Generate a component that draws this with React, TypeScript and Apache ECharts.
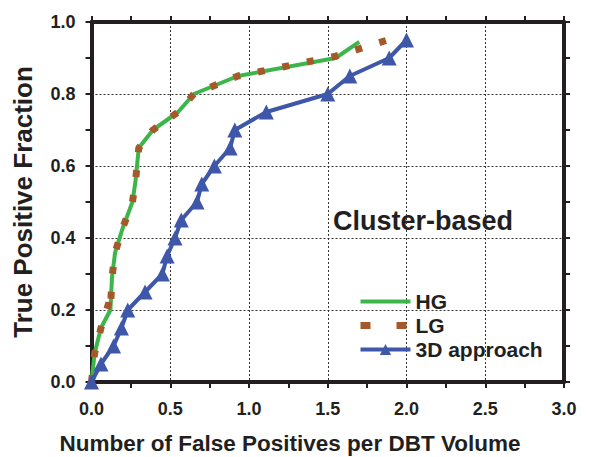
import React, { useEffect, useRef } from "react";
import * as echarts from "echarts";

const hgX = [0, 0.02, 0.06, 0.12, 0.13, 0.15, 0.2, 0.26, 0.28, 0.3, 0.39, 0.55, 0.65, 0.93, 1.55, 1.7];
const hgY = [0, 0.08, 0.15, 0.2, 0.29, 0.36, 0.43, 0.5, 0.56, 0.65, 0.7, 0.75, 0.8, 0.85, 0.9, 0.945];

const lgX = [0, 0.02, 0.06, 0.11, 0.12, 0.13, 0.15, 0.2, 0.26, 0.28, 0.3, 0.39, 0.55, 0.65, 0.93, 1.55, 1.88];
const lgY = [0, 0.08, 0.15, 0.22, 0.2, 0.29, 0.36, 0.43, 0.5, 0.56, 0.65, 0.7, 0.75, 0.8, 0.85, 0.905, 0.95];

const d3X = [0, 0.06, 0.14, 0.19, 0.23, 0.34, 0.45, 0.48, 0.53, 0.57, 0.67, 0.7, 0.78, 0.88, 0.91, 1.11, 1.5, 1.64, 1.89, 2.0];
const d3Y = [0, 0.05, 0.1, 0.15, 0.2, 0.25, 0.3, 0.35, 0.4, 0.45, 0.5, 0.55, 0.6, 0.65, 0.7, 0.75, 0.8, 0.85, 0.9, 0.95];

const xTicks = { min: 0, max: 3, interval: 0.5 };
const yTicks = { min: 0, max: 1, interval: 0.2 };

const seriesNames = ["HG", "LG", "3D approach"];
const xTitle = "Number of False Positives per DBT Volume";
const yTitle = "True Positive Fraction";
const annotation = "Cluster-based";

const FONT = "'Liberation Sans', Arial, Helvetica, sans-serif";
const INK = "#231f20";
const GREEN = "#3db54a";
const BROWN = "#a5582a";
const BLUE = "#3f57a8";

function pairs(xs: number[], ys: number[]) {
  return xs.map((x, i) => [x, ys[i]]);
}

export default function App() {
  const ref = useRef<HTMLDivElement>(null);
  useEffect(() => {
    if (!ref.current) return;
    const chart = echarts.init(ref.current, null, { renderer: "svg" });
    const axisCommon = {
      axisLine: { show: true, onZero: false, lineStyle: { color: INK, width: 4 } },
      axisTick: { show: true, inside: false, length: 6, lineStyle: { color: INK, width: 2 } },
      minorTick: { show: true, splitNumber: 2, length: 6, lineStyle: { color: INK, width: 2 } },
    };
    const grid = { show: true, lineStyle: { color: "#333", width: 1, type: [2, 2] } };
    chart.setOption({
      animation: false,
      backgroundColor: "#ffffff",
      grid: { left: 91.5, right: 26, top: 22, bottom: 75, containLabel: false },
      xAxis: [
        {
          type: "value",
          ...xTicks,
          position: "bottom",
          ...axisCommon,
          axisLabel: {
            margin: 18,
            color: INK,
            fontFamily: FONT,
            fontWeight: "bold",
            fontSize: 18,
            formatter: (v: number) => v.toFixed(1),
          },
          splitLine: grid,
        },
        {
          type: "value",
          ...xTicks,
          position: "top",
          ...axisCommon,
          axisLabel: { show: false },
          splitLine: { show: false },
        },
      ],
      yAxis: [
        {
          type: "value",
          ...yTicks,
          position: "left",
          ...axisCommon,
          name: yTitle,
          nameLocation: "middle",
          nameGap: 56,
          nameTextStyle: { color: INK, fontFamily: FONT, fontWeight: "bold", fontSize: 26 },
          axisLabel: {
            margin: 16,
            color: INK,
            fontFamily: FONT,
            fontWeight: "bold",
            fontSize: 18,
            formatter: (v: number) => v.toFixed(1),
          },
          splitLine: grid,
        },
        {
          type: "value",
          ...yTicks,
          position: "right",
          ...axisCommon,
          axisLabel: { show: false },
          splitLine: { show: false },
        },
      ],
      legend: {
        orient: "vertical",
        left: 352,
        top: 286,
        itemWidth: 50,
        itemHeight: 14,
        itemGap: 3,
        data: [
          { name: seriesNames[0], itemStyle: { opacity: 0 }, lineStyle: { width: 4, color: GREEN } },
          {
            name: seriesNames[1],
            itemStyle: { opacity: 0 },
            lineStyle: { width: 7, color: BROWN, type: [10, 26], cap: "butt" },
          },
          { name: seriesNames[2], lineStyle: { width: 4, color: BLUE } },
        ],
        textStyle: {
          color: INK,
          fontFamily: FONT,
          fontWeight: "bold",
          fontSize: 21,
          lineHeight: 20,
          padding: [0, 0, 0, 0],
        },
      },
      graphic: [
        {
          type: "text",
          left: 333,
          top: 207,
          style: { text: annotation, fill: INK, font: `bold 27px ${FONT}` },
        },
        {
          type: "text",
          x: 290,
          y: 443,
          style: {
            text: xTitle,
            fill: INK,
            font: `bold 22.5px ${FONT}`,
            textAlign: "center",
            textVerticalAlign: "middle",
          },
        },
      ],
      series: [
        {
          name: seriesNames[0],
          type: "line",
          data: pairs(hgX, hgY),
          symbol: "none",
          color: GREEN,
          lineStyle: { color: GREEN, width: 4 },
          z: 2,
        },
        {
          name: seriesNames[1],
          type: "line",
          data: pairs(lgX, lgY),
          symbol: "none",
          color: BROWN,
          lineStyle: { color: BROWN, width: 7, type: [7, 18], cap: "butt" },
          z: 3,
        },
        {
          name: seriesNames[2],
          type: "line",
          data: pairs(d3X, d3Y),
          symbol: "triangle",
          symbolSize: 15,
          color: BLUE,
          itemStyle: { color: BLUE },
          lineStyle: { color: BLUE, width: 4 },
          z: 4,
        },
      ],
    });
    return () => chart.dispose();
  }, []);
  return (
    <div
      ref={ref}
      style={{ position: "absolute", left: 0, top: 0, width: 590, height: 457 }}
    />
  );
}
